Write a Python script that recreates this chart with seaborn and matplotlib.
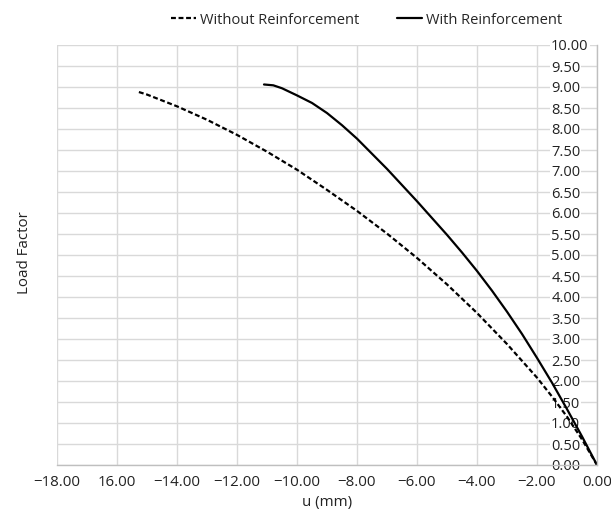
import matplotlib
matplotlib.use("Agg")
import matplotlib.pyplot as plt
from matplotlib.lines import Line2D
import seaborn as sns
import pandas as pd

# Data
u_without = [-15.27, -15.0, -14.0, -13.0, -12.0, -11.0, -10.0, -9.0, -8.0, -7.0, -6.0, -5.0, -4.0, -3.0, -2.0, -1.5, -1.0, -0.5, 0.0]
lf_without = [8.88, 8.82, 8.54, 8.22, 7.86, 7.46, 7.03, 6.55, 6.05, 5.51, 4.93, 4.30, 3.62, 2.88, 2.08, 1.63, 1.15, 0.61, 0.0]
u_with = [-11.1, -10.79, -10.5, -10.0, -9.5, -9.0, -8.5, -8.0, -7.0, -6.0, -5.0, -4.5, -4.0, -3.5, -3.0, -2.5, -2.0, -1.5, -1.0, -0.5, 0.0]
lf_with = [9.06, 9.04, 8.97, 8.80, 8.62, 8.38, 8.09, 7.77, 7.05, 6.28, 5.48, 5.06, 4.62, 4.15, 3.65, 3.12, 2.55, 1.96, 1.33, 0.68, 0.0]

x_ticks = [-18, -16, -14, -12, -10, -8, -6, -4, -2, 0]
x_tick_labels = ["\u221218.00", "16.00", "\u221214.00", "\u221212.00", "\u221210.00",
                 "\u22128.00", "\u22126.00", "\u22124.00", "\u22122.00", "0.00"]
y_ticks = [i * 0.5 for i in range(21)]
y_tick_labels = [f"{v:.2f}" for v in y_ticks]

sns.set_theme(style="whitegrid")
plt.rcParams['font.family'] = ['Open Sans', 'DejaVu Sans']

df = pd.concat([
    pd.DataFrame({"u": u_without, "lf": lf_without, "series": "Without Reinforcement"}),
    pd.DataFrame({"u": u_with, "lf": lf_with, "series": "With Reinforcement"}),
], ignore_index=True)

fig = plt.figure(figsize=(6.11, 5.14), dpi=100)
ax = fig.add_axes([57/611, 49/514, 540/611, 420/514])

sns.lineplot(data=df, x="u", y="lf", hue="series", style="series", sort=False,
             palette={"Without Reinforcement": "black", "With Reinforcement": "black"},
             dashes={"Without Reinforcement": (2.2, 1.2), "With Reinforcement": ""},
             linewidth=1.6, ax=ax, legend=False, estimator=None)

ax.set_xlim(-18, 0)
ax.set_ylim(0, 10)
ax.set_xticks(x_ticks)
ax.set_xticklabels(x_tick_labels)
ax.set_yticks(y_ticks)
ax.set_yticklabels(y_tick_labels)

ax.grid(True, color="#d9d9d9", linewidth=1.0)
for s in ["top", "left"]:
    ax.spines[s].set_visible(False)
for s in ["bottom", "right"]:
    ax.spines[s].set_visible(True)
    ax.spines[s].set_color("#bfbfbf")
    ax.spines[s].set_linewidth(1.0)

ax.yaxis.set_ticks_position("right")
ax.tick_params(axis="y", which="both", length=0, pad=-33, labelright=True, labelleft=False,
               labelsize=10.5, colors="#222222")
ax.tick_params(axis="x", length=0, pad=7, labelsize=10.8, colors="#222222")
for lbl in ax.get_yticklabels():
    lbl.set_bbox(dict(facecolor="white", edgecolor="none", pad=0.6))

ax.set_xlabel("u (mm)", fontsize=10.8, color="#222222", labelpad=4)
ax.set_ylabel("")
fig.text(25/611, 1 - 253/514, "Load Factor", rotation=90, ha="center", va="center",
         fontsize=10.8, color="#222222")

handles = [Line2D([], [], color="black", linewidth=1.6, dashes=(2.2, 1.2)),
           Line2D([], [], color="black", linewidth=1.6)]
fig.legend(handles, ["Without Reinforcement", "With Reinforcement"], loc="center",
           bbox_to_anchor=(0.6, 1 - 20/514), ncol=2, frameon=False, fontsize=10.5,
           handlelength=1.7, handletextpad=0.3, columnspacing=2.6)

fig.savefig("out.png", dpi=100)
